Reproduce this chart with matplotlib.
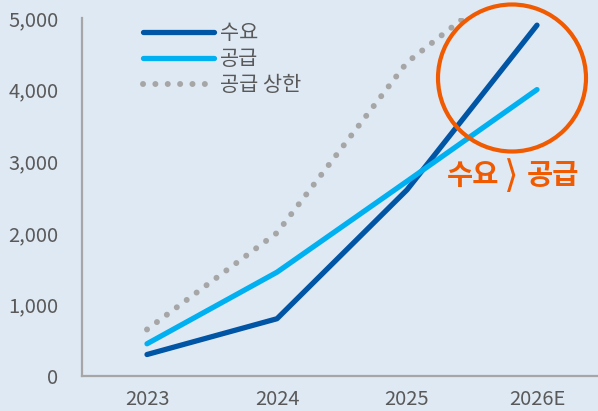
import matplotlib
matplotlib.use("Agg")
import matplotlib.pyplot as plt
from matplotlib.patches import Ellipse

plt.rcParams['font.family'] = ['Noto Sans CJK KR', 'DejaVu Sans']

years = ["2023", "2024", "2025", "2026E"]
demand = [300, 800, 2600, 4900]
supply = [450, 1450, 2720, 4000]
supply_cap = [650, 2000, 4380, 5800]
y_ticks = [0, 1000, 2000, 3000, 4000, 5000]
y_tick_labels = ["0", "1,000", "2,000", "3,000", "4,000", "5,000"]
series_labels = ["수요", "공급", "공급 상한"]
annot_left, annot_mid, annot_right = "수요", "⟩", "공급"

bg = "#DFE9F4"
dark = "#0055A5"
light = "#00B0F0"
grey = "#A6A6A6"
orange = "#F05A00"
txt = "#595959"

W, H = 598, 411
fig = plt.figure(figsize=(W / 100, H / 100), dpi=100, facecolor=bg)
ax = fig.add_axes([82 / W, (H - 376) / H, 520 / W, 358 / H])
ax.set_facecolor(bg)

x = list(range(len(years)))
lw = 3.8
ax.plot(x, demand, color=dark, lw=lw, solid_capstyle='round', label=series_labels[0], zorder=3)
ax.plot(x, supply, color=light, lw=lw, solid_capstyle='round', label=series_labels[1], zorder=3)
ax.plot(x, supply_cap, color=grey, lw=4.3, linestyle=(0, (0.01, 2.06)), dash_capstyle='round',
        label=series_labels[2], zorder=2)

ax.set_xlim(-0.5, 3.5)
ax.set_ylim(0, 5000)
ax.set_xticks(x)
ax.set_xticklabels(years)
ax.set_yticks(y_ticks)
ax.set_yticklabels(y_tick_labels)
ax.tick_params(axis='both', length=0, labelsize=14.5, colors=txt)
ax.tick_params(axis='y', pad=17)
ax.tick_params(axis='x', pad=9)
for s in ['top', 'right']:
    ax.spines[s].set_visible(False)
for s in ['left', 'bottom']:
    ax.spines[s].set_color(grey)
    ax.spines[s].set_linewidth(1.6)

leg = ax.legend(loc='upper left', bbox_to_anchor=(143 / W, 1 - 22 / H), bbox_transform=fig.transFigure,
                frameon=False, borderpad=0, borderaxespad=0, handlelength=3.4, handletextpad=0.3,
                labelspacing=0.2, fontsize=15)
for t in leg.get_texts():
    t.set_color(txt)

fig.patches.append(Ellipse((512 / W, 1 - 78 / H), 148 / W, 147 / H, transform=fig.transFigure,
                           fill=False, edgecolor=orange, lw=3.0, zorder=5))
yc = 1 - 176 / H
fig.text(499 / W, yc, annot_left, color=orange, fontsize=20.5, fontweight='bold', ha='right', va='center')
fig.text(511.5 / W, 1 - 177 / H, annot_mid, color=orange, fontsize=27, family=['DejaVu Sans'],
         ha='center', va='center')
fig.text(527 / W, yc, annot_right, color=orange, fontsize=20.5, fontweight='bold', ha='left', va='center')

fig.savefig("out.png", dpi=100, facecolor=bg)
